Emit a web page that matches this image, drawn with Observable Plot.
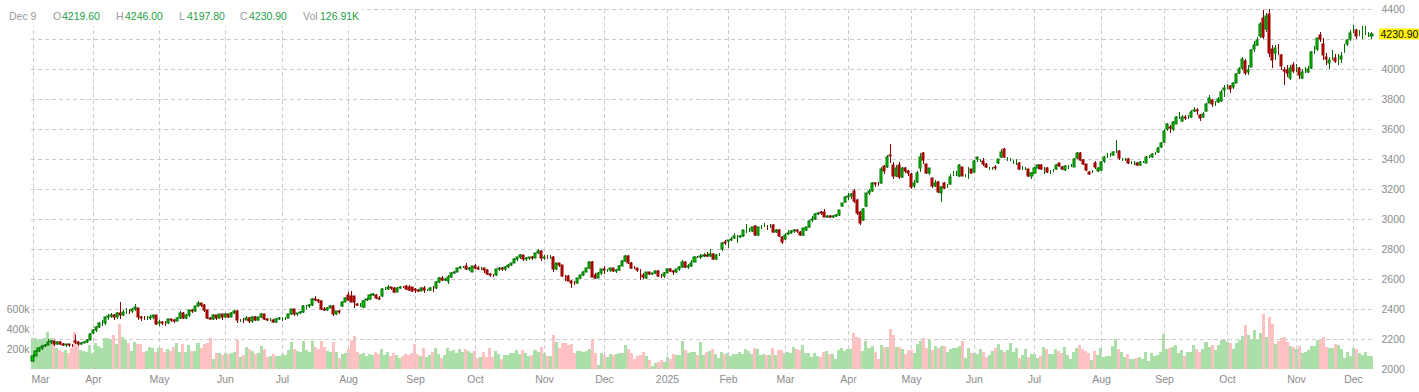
<!DOCTYPE html>
<html><head><meta charset="utf-8">
<script src="https://cdn.jsdelivr.net/npm/d3@7"></script>
<script src="https://cdn.jsdelivr.net/npm/@observablehq/plot@0.6"></script>
<style>
body{margin:0;background:#fff;font-family:"Liberation Sans",Arial,sans-serif;}
#wrap{position:relative;width:1419px;height:392px;overflow:hidden;}
#legend{position:absolute;left:0;top:0;width:362px;height:26px;background:#fff;font-size:10.5px;line-height:12px;}
#legend span{position:absolute;top:10px;white-space:nowrap;}
.lbl{color:#9a9a9a}.val{color:#1e9e45}
</style></head><body>
<div id="wrap"><div id="chart"></div><div id="legend"></div></div>
<script>
// Month tick labels and the trading-day index where each month starts
const monthLabels = ["Mar","Apr","May","Jun","Jul","Aug","Sep","Oct","Nov","Dec","2025","Feb","Mar","Apr","May","Jun","Jul","Aug","Sep","Oct","Nov","Dec"];
const monthStarts = [0,20,42,64,83,105,127,147,170,190,211,231,250,271,292,313,333,355,376,397,420,439];
const lastDateLabel = "Dec 9";
const priceTicks = [2000,2200,2400,2600,2800,3000,3200,3400,3600,3800,4000,4200,4400];
const volTicks = [200,400,600]; // thousands

const opens = [
// Mar 24
2054,2090,2120,2138,2152,2162,2180,2184,2166,2178,2167,2161,2164,2160,2185,2181,2165,2176,2179,2195,
// Apr 24
2239,2257,2281,2305,2308,2345,2351,2362,2348,2372,2358,2383,2390,2388,2398,2406,2346,2342,2338,2342,2347,2357,
// May 24
2305,2311,2309,2308,2331,2324,2322,2340,2375,2343,2358,2393,2385,2420,2438,2425,2393,2337,2334,2358,2338,2364,
// Jun 24
2345,2369,2349,2375,2390,2325,2327,2326,2341,2317,2349,2329,2344,2369,2336,2330,2330,2313,2336,
// Jul 24
2339,2340,2343,2368,2397,2368,2371,2379,2421,2421,2429,2467,2459,2455,2399,2396,2409,2419,2365,2385,2420,2449,
// Aug 24
2493,2487,2487,2436,2427,2416,2460,2464,2496,2496,2471,2487,2531,2531,2544,2542,2516,2542,2549,2553,2549,2544,
// Sep 24
2531,2526,2522,2541,2524,2530,2543,2538,2582,2606,2596,2590,2614,2642,2649,2671,2680,2687,2664,2649,
// Oct 24
2687,2676,2671,2671,2660,2633,2627,2625,2664,2676,2665,2680,2694,2707,2736,2744,2758,2731,2740,2746,2743,2771,2790,
// Nov 24
2738,2749,2746,2749,2667,2706,2694,2622,2617,2590,2576,2571,2604,2627,2649,2671,2716,2627,2610,2638,
// Dec 24
2665,2659,2660,2671,2655,2657,2690,2718,2756,2708,2675,2671,2655,2630,2606,2645,2634,2637,2656,2622,2617,
// Jan 25
2641,2670,2655,2645,2665,2680,2716,2678,2687,2716,2749,2746,2755,2758,2751,2769,2736,2758,2798,2849,
// Feb 25
2850,2857,2871,2880,2882,2887,2935,2930,2922,2953,2893,2944,2953,2950,2953,2960,2916,2927,2882,
// Mar 25
2865,2898,2909,2922,2927,2916,2893,2925,2945,2991,2998,3033,3045,3049,3016,3018,3016,3020,3025,3090,3116,
// Apr 25
3149,3153,3189,3125,3047,2991,3089,3175,3184,3238,3233,3238,3351,3347,3430,3360,3287,3360,3280,3338,3322,
// May 25
3300,3220,3249,3338,3438,3367,3309,3271,3222,3249,3176,3238,3220,3233,3300,3304,3287,3345,3287,3338,3331,
// Jun 25
3316,3400,3389,3389,3367,3338,3338,3349,3376,3411,3464,3404,3398,3382,3393,3376,3349,3338,3331,3287,
// Jul 25
3309,3340,3360,3338,3338,3316,3327,3331,3371,3349,3327,3344,3353,3349,3404,3438,3393,3364,3316,3316,3376,3322,
// Aug 25
3324,3384,3427,3427,3427,3487,3456,3398,3398,3398,3376,3371,3376,3360,3382,3376,3416,3416,3438,3449,3478,
// Sep 25
3516,3598,3616,3598,3633,3682,3656,3682,3682,3678,3722,3727,3693,3678,3720,3776,3793,3764,3782,3787,3860,
// Oct 25
3887,3887,3878,3909,3976,4004,4056,3980,4016,4131,4160,4220,4338,4264,4367,4131,4109,4138,4093,3993,3993,3938,4027,
// Nov 25
4004,4004,3938,3989,3982,4004,4115,4131,4225,4167,4078,4042,4071,4071,4065,4064,4131,4167,4198,
// Dec 25
4260,4260,4238,4238,4238,4227,4219.6
];
const highs = [
2097,2128,2145,2160,2170,2203,2194,2190,2185,2186,2175,2167,2167,2168,2225,2185,2180,2190,2199,2243,
2266,2284,2315,2325,2350,2370,2372,2365,2378,2448,2396,2405,2398,2409,2431,2406,2352,2352,2354,2359,2362,2358,
2326,2320,2318,2334,2335,2331,2350,2385,2378,2365,2396,2402,2422,2454,2440,2433,2395,2345,2364,2362,2368,2368,
2375,2370,2378,2393,2395,2336,2337,2355,2345,2353,2351,2349,2372,2370,2340,2340,2335,2340,2347,
2345,2345,2370,2398,2400,2375,2385,2425,2428,2433,2472,2484,2465,2460,2412,2414,2425,2425,2390,2392,2455,2480,
2513,2522,2490,2440,2440,2460,2475,2500,2505,2500,2485,2540,2545,2562,2550,2548,2546,2556,2555,2558,2560,2548,
2540,2535,2545,2553,2535,2547,2553,2585,2615,2617,2605,2625,2648,2655,2675,2685,2690,2708,2678,2690,
2700,2685,2680,2675,2665,2640,2635,2668,2680,2680,2690,2700,2710,2740,2750,2765,2763,2745,2750,2752,2775,2801,2795,
2760,2757,2760,2752,2710,2710,2695,2625,2625,2595,2590,2610,2630,2655,2675,2721,2720,2640,2645,2670,
2685,2670,2675,2675,2665,2695,2725,2763,2760,2715,2690,2675,2670,2640,2650,2650,2640,2660,2657,2635,2645,
2675,2672,2660,2670,2688,2725,2718,2700,2725,2752,2755,2765,2775,2778,2800,2772,2765,2775,2845,2860,
2862,2880,2906,2895,2895,2930,2968,2940,2950,2960,2950,2960,2975,2960,2965,2965,2935,2932,2885,
2905,2925,2930,2935,2935,2920,2942,2950,2995,3017,3038,3045,3055,3065,3030,3030,3030,3035,3062,3110,3155,
3175,3175,3200,3136,3055,3075,3175,3200,3250,3245,3245,3350,3358,3430,3500,3380,3360,3380,3345,3345,3330,
3310,3260,3320,3437,3445,3370,3340,3275,3260,3255,3220,3245,3235,3300,3320,3320,3370,3350,3300,3350,3335,
3392,3410,3400,3405,3375,3350,3350,3360,3400,3465,3470,3415,3410,3395,3400,3380,3355,3350,3335,3315,
3350,3365,3365,3345,3345,3325,3335,3370,3375,3355,3360,3360,3365,3405,3445,3445,3400,3370,3320,3330,3385,3350,
3390,3420,3440,3440,3455,3527,3460,3410,3410,3405,3385,3385,3380,3385,3390,3420,3425,3437,3445,3478,3513,
3600,3640,3625,3655,3685,3715,3690,3690,3695,3725,3745,3740,3700,3710,3772,3824,3800,3790,3815,3860,3893,
3900,3895,3915,3975,4010,4080,4065,4030,4135,4190,4215,4310,4392,4375,4398,4160,4160,4165,4100,4010,4030,4030,4050,
4035,4010,4000,4015,4020,4120,4150,4210,4250,4210,4110,4080,4130,4100,4100,4115,4170,4200,4260,
4293,4270,4260,4287,4287,4245,4246
];
const lows = [
2050,2086,2115,2130,2145,2158,2170,2151,2160,2158,2155,2150,2146,2150,2168,2154,2160,2172,2172,2192,
2235,2250,2276,2290,2291,2330,2340,2327,2333,2332,2351,2368,2365,2375,2390,2330,2318,2325,2326,2330,2335,2296,
2285,2293,2285,2300,2314,2306,2318,2335,2336,2335,2345,2375,2378,2415,2413,2380,2335,2325,2330,2330,2335,2330,
2340,2337,2344,2370,2310,2312,2310,2324,2305,2308,2320,2322,2340,2325,2322,2318,2305,2310,2325,
2322,2326,2338,2360,2355,2356,2365,2375,2400,2405,2422,2455,2443,2395,2385,2390,2405,2353,2361,2370,2415,2445,
2455,2445,2404,2420,2415,2410,2455,2460,2485,2465,2460,2480,2525,2528,2530,2510,2512,2535,2538,2525,2522,2515,
2510,2512,2518,2510,2518,2520,2515,2535,2575,2590,2585,2570,2610,2636,2645,2665,2672,2660,2655,2645,
2665,2660,2660,2640,2625,2615,2615,2620,2655,2655,2655,2675,2688,2705,2720,2735,2720,2720,2730,2730,2740,2765,2720,
2730,2735,2735,2650,2660,2680,2615,2590,2585,2538,2560,2565,2600,2620,2645,2668,2612,2598,2605,2630,
2635,2645,2650,2645,2640,2652,2685,2715,2700,2670,2665,2650,2593,2600,2600,2625,2625,2632,2615,2605,2610,
2638,2650,2630,2640,2655,2675,2675,2670,2680,2712,2738,2735,2750,2745,2748,2730,2730,2755,2790,2830,
2805,2850,2865,2842,2870,2880,2905,2915,2915,2885,2890,2935,2945,2930,2940,2905,2905,2880,2835,
2860,2895,2900,2910,2905,2885,2890,2918,2940,2980,2995,3025,3030,3010,3005,3005,3008,3015,3020,3080,3110,
3130,3135,3105,3030,2957,2985,3080,3160,3180,3215,3218,3235,3300,3340,3376,3265,3280,3265,3275,3305,3285,
3200,3205,3240,3315,3370,3300,3295,3210,3215,3175,3116,3200,3210,3228,3290,3290,3280,3285,3280,3265,3300,
3305,3380,3380,3355,3340,3325,3325,3330,3370,3405,3410,3390,3385,3365,3360,3325,3330,3325,3280,3270,
3300,3335,3325,3300,3310,3300,3315,3325,3350,3325,3320,3335,3345,3345,3400,3385,3360,3320,3295,3305,3335,3315,
3320,3375,3410,3415,3420,3442,3395,3385,3390,3370,3365,3360,3355,3355,3372,3372,3405,3410,3425,3440,3470,
3510,3590,3571,3590,3630,3665,3650,3660,3670,3675,3715,3693,3655,3675,3715,3770,3750,3755,3770,3780,3816,
3870,3838,3865,3905,3965,3995,3960,3960,4010,4115,4150,4210,4200,4250,4080,4005,4060,4095,3990,3893,3945,3925,3975,
3980,3930,3930,3975,3975,4000,4100,4120,4180,4060,4030,4000,4060,4040,4030,4040,4110,4150,4190,
4240,4200,4220,4198,4225,4215,4197.8
];
const closes = [
2090,2120,2138,2152,2162,2180,2184,2166,2178,2167,2161,2164,2160,2158,2181,2165,2176,2179,2195,2233,
2257,2281,2305,2308,2345,2351,2362,2348,2372,2358,2383,2383,2388,2398,2413,2346,2342,2338,2342,2347,2357,2303,
2311,2309,2308,2331,2324,2322,2340,2375,2343,2358,2393,2385,2419,2438,2425,2393,2337,2334,2358,2338,2364,2345,
2369,2349,2375,2390,2325,2327,2326,2341,2317,2349,2329,2344,2369,2336,2330,2330,2313,2336,2339,
2340,2343,2368,2397,2368,2371,2379,2421,2421,2429,2467,2459,2455,2399,2396,2409,2419,2365,2385,2380,2449,2471,
2462,2450,2444,2427,2427,2456,2467,2496,2500,2471,2470,2531,2533,2544,2538,2516,2542,2549,2544,2531,2527,2522,
2526,2522,2541,2524,2530,2543,2538,2578,2609,2596,2598,2614,2642,2648,2671,2680,2682,2664,2671,2687,
2675,2665,2671,2660,2633,2627,2625,2664,2676,2665,2680,2694,2707,2736,2744,2758,2731,2740,2746,2743,2771,2789,2738,
2749,2746,2749,2667,2706,2694,2622,2617,2590,2576,2571,2604,2627,2649,2671,2712,2616,2610,2638,2665,
2659,2660,2671,2655,2657,2690,2718,2756,2708,2675,2671,2662,2652,2611,2645,2634,2637,2656,2622,2617,2641,
2670,2655,2645,2665,2680,2716,2678,2690,2709,2749,2746,2752,2758,2755,2769,2736,2758,2762,2842,2838,
2857,2868,2887,2882,2887,2927,2935,2930,2944,2893,2944,2949,2955,2945,2956,2916,2927,2887,2845,
2893,2909,2922,2927,2920,2893,2938,2945,2989,2998,3033,3038,3040,3016,3018,3016,3020,3025,3060,3104,3149,
3153,3166,3118,3038,2971,3069,3171,3190,3238,3233,3231,3336,3322,3413,3420,3287,3338,3278,3338,3322,3310,
3216,3242,3309,3411,3393,3304,3338,3222,3242,3182,3211,3204,3220,3278,3300,3304,3360,3287,3287,3338,3304,
3387,3411,3389,3367,3349,3338,3338,3340,3398,3449,3416,3404,3398,3382,3393,3331,3349,3338,3287,3309,
3338,3360,3331,3338,3316,3316,3327,3360,3353,3331,3353,3344,3353,3398,3438,3393,3367,3327,3300,3316,3344,3342,
3380,3413,3427,3427,3449,3487,3404,3398,3398,3376,3376,3371,3360,3382,3382,3416,3416,3433,3438,3471,3509,
3587,3631,3604,3644,3678,3682,3678,3671,3682,3716,3725,3720,3671,3700,3767,3804,3764,3768,3802,3849,3871,
3887,3864,3904,3967,4000,4064,3971,3993,4127,4160,4193,4300,4211,4353,4104,4060,4138,4137,4020,3987,3971,4004,3989,
4004,3960,3982,3989,3998,4111,4115,4204,4200,4093,4067,4060,4071,4056,4065,4087,4131,4193,4242,
4260,4220,4238,4238,4238,4227,4230.9
];
const volumes = [ // thousands of contracts
307,307,290,300,307,373,307,307,207,190,173,190,163,207,373,230,190,183,173,237,
157,263,230,207,307,307,290,337,247,453,323,290,263,183,270,247,253,173,183,220,207,173,
213,213,173,197,183,223,263,173,247,173,237,183,183,263,213,247,257,313,100,157,157,140,
157,150,160,170,290,123,140,223,200,180,150,160,230,200,123,130,150,130,130,
150,140,190,273,200,180,170,283,190,170,280,220,200,283,220,180,170,273,170,107,150,160,
200,290,330,173,150,160,130,150,140,170,153,200,140,170,130,160,140,113,130,150,140,160,
250,150,130,210,120,140,170,210,150,110,140,210,180,190,160,200,170,200,180,160,
180,110,120,170,120,210,120,180,150,100,140,140,160,160,193,150,190,160,130,140,190,170,220,
160,130,130,340,270,210,260,260,240,250,160,180,180,170,180,200,290,160,40,160,
140,120,150,140,150,160,160,240,200,160,100,130,140,170,130,90,30,60,70,90,70,
120,100,150,140,140,280,190,160,170,170,140,270,140,170,180,200,150,110,170,150,
160,130,150,150,170,150,200,180,150,210,200,140,150,140,140,210,140,190,190,
163,170,160,220,200,190,240,160,160,120,160,130,120,170,180,150,150,100,190,210,180,
200,200,360,320,310,180,280,210,230,170,100,240,220,220,400,340,220,220,200,150,190,
190,160,250,280,310,210,290,190,230,210,230,230,170,200,210,210,230,280,110,210,160,
160,150,200,170,120,140,180,210,250,190,170,190,260,170,210,110,140,200,120,150,
150,107,130,220,200,150,150,200,180,160,220,140,100,170,210,240,200,180,160,90,180,140,
210,120,130,130,230,300,200,170,120,150,100,100,110,120,100,170,80,160,130,140,170,
350,200,210,220,240,160,190,130,170,170,240,200,170,200,270,220,240,190,240,290,290,
270,260,200,260,290,330,440,340,290,390,290,360,550,320,520,450,250,280,310,320,270,230,220,
200,230,160,170,190,230,230,290,300,320,220,210,210,250,240,200,110,170,130,
210,200,160,140,170,130,126.91
];

const n = closes.length;
const rows = d3.range(n).map(i => ({i, o: opens[i], h: highs[i], l: lows[i], c: closes[i], v: volumes[i]}));
const isUp = d => d.c >= d.o;
// volume shares the price scale: 200k maps to 20px (= 133.33 price units) above the base
const volBase = 2000, volFactor = 2 / 3;
const grid = {stroke: "#cccccc", strokeOpacity: 1, strokeDasharray: "4,3"};
const txt = "#8c8c8c";
const fmt2 = d3.format(".2f");
const lastClose = closes[n - 1];
// the price label hidden under the last-price badge is left out
const axisTicks = priceTicks.filter(t => Math.abs(t - lastClose) > 60);

const chart = Plot.plot({
  width: 1419, height: 392,
  marginTop: 9, marginBottom: 23, marginLeft: 31, marginRight: 46,
  style: {background: "#fff", fontFamily: '"Liberation Sans", Arial, sans-serif', fontSize: "10.5px", overflow: "visible"},
  x: {type: "linear", domain: [-0.5, n - 0.5], round: true, axis: null},
  y: {type: "linear", domain: [2000, 4400], round: true},
  marks: [
    Plot.rect(rows, {x1: d => d.i - 0.5, x2: d => d.i + 0.5, y1: () => volBase, y2: d => volBase + d.v * volFactor,
      fill: d => isUp(d) ? "#aadfa7" : "#ffc1c1"}),
    Plot.gridY(priceTicks.filter(t => t > 2000), grid),
    Plot.gridX(monthStarts, grid),
    Plot.axisY(axisTicks, {anchor: "right", tickSize: 0, tickPadding: 8, label: null, fill: txt, tickFormat: d => String(d)}),
    Plot.axisY(volTicks.map(v => volBase + v * volFactor), {anchor: "left", tickSize: 0, tickPadding: 2, label: null, fill: txt,
      tickFormat: d => Math.round((d - volBase) / volFactor) + "k"}),
    Plot.text(monthStarts.slice(0, 1), {x: d => d, text: () => monthLabels[0], frameAnchor: "bottom", dy: 13, dx: -2, textAnchor: "start", fill: txt}),
    Plot.text(monthStarts.slice(1), {x: d => d, text: (d, i) => monthLabels[i + 1], frameAnchor: "bottom", dy: 13, fill: txt}),
    Plot.ruleX(rows, {x: "i", y1: "l", y2: "h", stroke: d => isUp(d) ? "#007000" : "#8a0000", strokeWidth: 1}),
    Plot.rect(rows, {x1: d => d.i - 0.34, x2: d => d.i + 0.34, y1: "o", y2: "c",
      fill: d => isUp(d) ? "#00cc00" : "#d40000", stroke: d => isUp(d) ? "#007000" : "#8a0000", strokeWidth: 1}),
    Plot.text([lastClose], {y: d => d, frameAnchor: "right", dx: 7, textAnchor: "start", text: d => fmt2(d), fill: "#111"})
  ]
});
document.getElementById("chart").append(chart);

// yellow badge behind the last-price label
const lastTxt = fmt2(lastClose);
const svgEl = chart.tagName.toLowerCase() === "svg" ? chart : chart.querySelector("svg");
const badgeText = Array.from(svgEl.querySelectorAll("text")).find(t => t.textContent === lastTxt);
if (badgeText) {
  const sb = svgEl.getBoundingClientRect(), tb = badgeText.getBoundingClientRect();
  const r = document.createElementNS("http://www.w3.org/2000/svg", "rect");
  r.setAttribute("x", tb.left - sb.left - 1.5);
  r.setAttribute("y", Math.round(tb.top - sb.top) + 0.5);
  r.setAttribute("width", tb.width + 3);
  r.setAttribute("height", Math.round(tb.height) - 1);
  r.setAttribute("fill", "#fff200");
  const g = badgeText.parentNode;
  g.parentNode.insertBefore(r, g);
}

// header legend
const legendItems = [
  {x: 9, cls: "lbl", t: lastDateLabel},
  {x: 53, cls: "lbl", t: "O"}, {x: 62, cls: "val", t: fmt2(opens[n - 1])},
  {x: 116, cls: "lbl", t: "H"}, {x: 125, cls: "val", t: fmt2(highs[n - 1])},
  {x: 179, cls: "lbl", t: "L"}, {x: 187, cls: "val", t: fmt2(lows[n - 1])},
  {x: 240, cls: "lbl", t: "C"}, {x: 249, cls: "val", t: fmt2(closes[n - 1])},
  {x: 303, cls: "lbl", t: "Vol"}, {x: 320, cls: "val", t: fmt2(volumes[n - 1]) + "K"}
];
const lg = document.getElementById("legend");
for (const it of legendItems) {
  const s = document.createElement("span");
  s.className = it.cls; s.style.left = it.x + "px"; s.textContent = it.t;
  lg.appendChild(s);
}
</script>
</body></html>
